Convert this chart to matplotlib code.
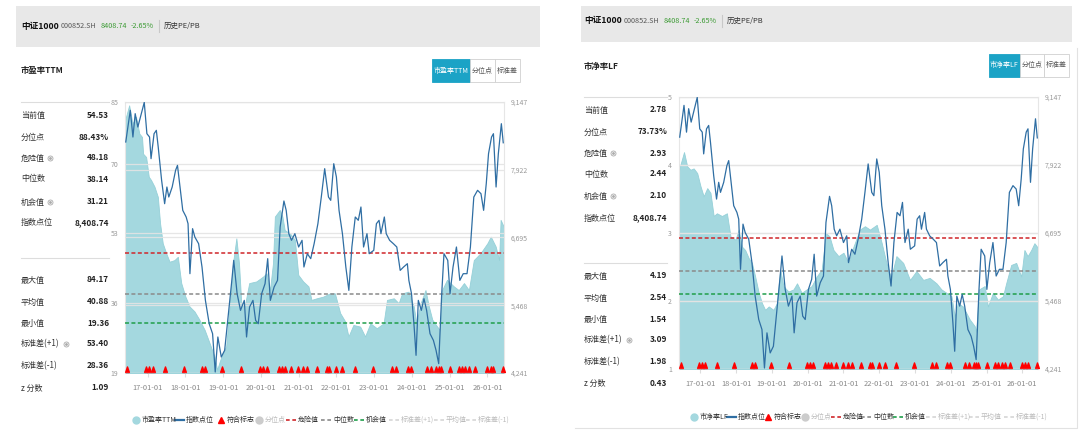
import matplotlib
matplotlib.use("Agg")
import matplotlib.pyplot as plt
from matplotlib.patches import Rectangle
from matplotlib.path import Path
import numpy as np

W, H = 1080, 438
FONT = ["Liberation Sans Narrow", "Noto Sans CJK SC", "DejaVu Sans"]
plt.rcParams["font.family"] = FONT

# ---- data (x = decimal year) ----
index_t = [2016.42, 2016.54, 2016.61, 2016.67, 2016.74, 2016.81, 2016.91, 2016.98, 2017.05, 2017.09,
           2017.17, 2017.23, 2017.28, 2017.37, 2017.45, 2017.51, 2017.56, 2017.65, 2017.74, 2017.79,
           2017.88, 2017.93, 2018.02, 2018.07, 2018.12, 2018.19, 2018.25, 2018.35, 2018.44, 2018.53,
           2018.63, 2018.72, 2018.79, 2018.86, 2018.95, 2019.04, 2019.14, 2019.23, 2019.28, 2019.37,
           2019.46, 2019.56, 2019.62, 2019.70, 2019.79, 2019.86, 2019.93, 2020.02, 2020.11, 2020.18,
           2020.25, 2020.35, 2020.44, 2020.51, 2020.61, 2020.67, 2020.74, 2020.81, 2020.90, 2021.00,
           2021.09, 2021.14, 2021.23, 2021.32, 2021.41, 2021.51, 2021.60, 2021.69, 2021.79, 2021.85,
           2021.93, 2022.00, 2022.07, 2022.16, 2022.25, 2022.33, 2022.41, 2022.50, 2022.58, 2022.65,
           2022.72, 2022.81, 2022.87, 2022.99, 2023.06, 2023.13, 2023.18, 2023.27, 2023.32, 2023.41,
           2023.51, 2023.60, 2023.69, 2023.78, 2023.88, 2023.92, 2023.99, 2024.06, 2024.11, 2024.17,
           2024.25, 2024.32, 2024.39, 2024.48, 2024.57, 2024.64, 2024.71, 2024.79, 2024.85, 2024.95,
           2025.01, 2025.09, 2025.18, 2025.27, 2025.36, 2025.46, 2025.55, 2025.64, 2025.74, 2025.83,
           2025.90, 2025.97, 2026.03, 2026.11, 2026.16, 2026.23, 2026.29, 2026.37, 2026.42]
index_v = [8423, 8996, 8513, 8936, 8694, 8875, 9140, 8573, 8513, 8121,
           8573, 8634, 8332, 7729, 7306, 7608, 7427, 7608, 7910, 8000,
           7487, 7186, 7065, 6944, 6039, 6854, 6703, 6582, 6160, 5556,
           5134, 4953, 4259, 4893, 4531, 4651, 5315, 5918, 6280, 5677,
           5375, 5556, 4893, 5436, 5556, 5194, 5134, 5677, 5858, 6311,
           5556, 5798, 5918, 6884, 7355, 7186, 6763, 6643, 6763, 6522,
           6643, 6160, 6401, 6311, 6582, 6944, 7427, 7940, 7427, 7367,
           8030, 7789, 7186, 6763, 6160, 5737, 6522, 7065, 7005, 7246,
           6522, 6763, 6401, 6462, 6944, 7005, 6763, 7065, 6763, 6643,
           6582, 6522, 6099, 6160, 6220, 5918, 5677, 5074, 4561, 5556,
           5375, 5587, 5375, 4953, 4832, 4651, 4410, 5677, 6401, 6280,
           5677, 6160, 6522, 5918, 6039, 6039, 6522, 7427, 7548, 7487,
           7186, 7668, 8211, 8513, 8573, 7608, 8211, 8754, 8409]

pe_t = [2016.40, 2016.51, 2016.60, 2016.69, 2016.78, 2016.85, 2016.88, 2016.96, 2017.03, 2017.09,
        2017.18, 2017.27, 2017.33, 2017.40, 2017.49, 2017.58, 2017.71, 2017.80, 2017.89, 2018.00,
        2018.11, 2018.24, 2018.37, 2018.51, 2018.64, 2018.77, 2018.84, 2018.91, 2018.99, 2019.08,
        2019.17, 2019.26, 2019.35, 2019.42, 2019.48, 2019.57, 2019.69, 2019.88, 2020.06, 2020.15,
        2020.24, 2020.32, 2020.37, 2020.50, 2020.57, 2020.63, 2020.77, 2020.90, 2020.99, 2021.12,
        2021.26, 2021.34, 2021.48, 2021.65, 2021.83, 2021.96, 2022.10, 2022.23, 2022.32, 2022.45,
        2022.63, 2022.76, 2022.90, 2023.07, 2023.25, 2023.34, 2023.52, 2023.65, 2023.74, 2023.91,
        2024.05, 2024.12, 2024.23, 2024.36, 2024.45, 2024.54, 2024.67, 2024.74, 2024.80, 2024.93,
        2025.11, 2025.24, 2025.38, 2025.51, 2025.64, 2025.82, 2026.00, 2026.09, 2026.22, 2026.31,
        2026.35, 2026.44]
pe_v = [80.5, 84.2, 79.7, 81.4, 77.3, 76.5, 72.4, 71.6, 66.8, 66.0,
        64.4, 61.9, 55.4, 50.6, 48.2, 46.1, 46.5, 47.3, 40.9, 37.6,
        35.2, 34.0, 32.0, 29.5, 26.3, 23.0, 19.8, 21.8, 23.9, 25.5,
        35.2, 45.7, 51.8, 45.7, 36.0, 35.2, 40.9, 41.3, 42.5, 43.3,
        39.2, 45.7, 57.1, 58.7, 57.1, 53.8, 53.0, 51.4, 42.9, 41.3,
        40.1, 36.8, 37.2, 37.6, 38.4, 38.4, 33.6, 31.6, 27.9, 30.7,
        30.3, 27.9, 31.1, 29.9, 31.1, 36.8, 37.2, 36.0, 38.4, 38.8,
        35.2, 31.1, 36.0, 39.2, 35.2, 32.0, 30.3, 29.5, 39.2, 41.7,
        40.1, 39.2, 40.9, 39.2, 46.5, 48.2, 50.6, 52.2, 49.8, 46.5,
        56.3, 54.5]

pb_t = [2016.40, 2016.54, 2016.63, 2016.72, 2016.81, 2016.91, 2017.00, 2017.09, 2017.19, 2017.28,
        2017.37, 2017.46, 2017.60, 2017.74, 2017.84, 2017.98, 2018.07, 2018.16, 2018.25, 2018.35,
        2018.44, 2018.53, 2018.63, 2018.72, 2018.81, 2018.91, 2019.04, 2019.14, 2019.23, 2019.32,
        2019.46, 2019.60, 2019.70, 2019.83, 2019.97, 2020.11, 2020.25, 2020.39, 2020.51, 2020.61,
        2020.72, 2020.86, 2021.00, 2021.14, 2021.28, 2021.46, 2021.60, 2021.74, 2021.93, 2022.07,
        2022.20, 2022.33, 2022.48, 2022.67, 2022.86, 2023.04, 2023.23, 2023.41, 2023.60, 2023.74,
        2023.88, 2024.02, 2024.11, 2024.20, 2024.34, 2024.53, 2024.67, 2024.71, 2024.79, 2024.95,
        2025.04, 2025.18, 2025.32, 2025.46, 2025.55, 2025.69, 2025.83, 2025.97, 2026.06, 2026.15,
        2026.25, 2026.34, 2026.44]
pb_v = [3.93, 4.19, 3.98, 3.93, 3.95, 3.88, 3.69, 3.54, 3.66, 3.59,
        3.25, 3.29, 3.25, 3.29, 2.95, 2.90, 3.05, 2.80, 2.75, 2.63,
        2.56, 2.36, 2.12, 1.97, 1.87, 1.92, 1.87, 1.97, 2.46, 2.22,
        2.14, 2.17, 2.26, 2.12, 2.17, 2.22, 2.36, 2.46, 3.00, 2.95,
        2.75, 2.66, 2.71, 2.56, 2.80, 3.05, 3.10, 3.05, 3.12, 2.85,
        2.56, 2.34, 2.66, 2.56, 2.31, 2.44, 2.31, 2.34, 2.26, 2.17,
        2.12, 2.07, 1.77, 1.97, 1.92, 1.73, 1.63, 1.55, 2.17, 2.22,
        1.92, 2.12, 2.02, 2.07, 2.26, 2.53, 2.56, 2.36, 2.75, 2.66,
        2.75, 2.85, 2.78]

signal_t = [2016.45, 2016.96, 2017.04, 2017.13, 2017.46, 2017.95, 2018.44, 2018.53, 2018.98, 2019.48,
            2019.97, 2020.06, 2020.15, 2020.48, 2020.56, 2020.65, 2020.79, 2020.99, 2021.12, 2021.23,
            2021.48, 2021.74, 2021.81, 2021.98, 2022.16, 2022.48, 2022.98, 2023.47, 2023.58, 2023.89,
            2023.98, 2024.40, 2024.51, 2024.64, 2024.71, 2024.77, 2025.01, 2025.24, 2025.33, 2025.42,
            2025.51, 2025.66, 2026.00, 2026.09, 2026.15, 2026.41]

year_ticks = [2017, 2018, 2019, 2020, 2021, 2022, 2023, 2024, 2025, 2026]
year_labels = ["17-01-01", "18-01-01", "19-01-01", "20-01-01", "21-01-01",
               "22-01-01", "23-01-01", "24-01-01", "25-01-01", "26-01-01"]
index_ticks = [4241, 5468, 6695, 7922, 9147]

header_parts = ["中证1000", "000852.SH", "8408.74", "-2.65%", "历史PE/PB"]
top_labels = ["当前值", "分位点", "危险值", "中位数", "机会值", "指数点位"]
bottom_labels = ["最大值", "平均值", "最小值", "标准差(+1)", "标准差(-1)", "z 分数"]
pe_top = ["54.53", "88.43%", "48.18", "38.14", "31.21", "8,408.74"]
pe_bottom = ["84.17", "40.88", "19.36", "53.40", "28.36", "1.09"]
pb_top = ["2.78", "73.73%", "2.93", "2.44", "2.10", "8,408.74"]
pb_bottom = ["4.19", "2.54", "1.54", "3.09", "1.98", "0.43"]
pe_levels = [48.18, 38.14, 31.21]
pb_levels = [2.93, 2.44, 2.10]
pe_ticks = [19, 36, 53, 70, 85]
pb_ticks = [1, 2, 3, 4, 5]

legend_rest = ["指数点位", "符合标志", "分位点", "危险值", "中位数", "机会值",
               "标准差(+1)", "平均值", "标准差(-1)"]

AREA = "#a4d8df"
LINE = "#2f6ea3"
TEAL = "#1ba3c6"
LEVEL_COLORS = ["#d0262a", "#8a8a8a", "#1f9e4a"]
TXT = "#333333"
GREY = "#999999"

TRI = Path([(-0.34, 0), (0.34, 0), (0, 1), (-0.34, 0)],
           [Path.MOVETO, Path.LINETO, Path.LINETO, Path.CLOSEPOLY])


def px_rect(x0, y0, x1, y1):
    return [x0 / W, 1 - y1 / H, (x1 - x0) / W, (y1 - y0) / H]


def chain_text(ov, renderer, x, y, parts, styles, gaps):
    # put texts one after another, each starting after the previous one ends
    ends = []
    for s, st, gap in zip(parts, styles, gaps):
        t = ov.text(x, y, s, va="center", **st)
        bb = t.get_window_extent(renderer)
        x = bb.x1 + gap
        ends.append(bb.x1)
    return ends


def draw_panel(fig, ov, renderer, g, metric, t, v, ylim, yticks, levels, top_vals, bottom_vals):
    # header band
    hx0, hy0, hx1, hy1 = g["header"]
    ov.add_patch(Rectangle((hx0, hy0), hx1 - hx0, hy1 - hy0, color="#e8e8e8", lw=0))
    hy = g["header_y"]
    styles = [dict(fontsize=6.2, fontweight="bold", color="#111"),
              dict(fontsize=5.2, color="#555"),
              dict(fontsize=5.2, color="#3d9b35"),
              dict(fontsize=5.2, color="#3d9b35"),
              dict(fontsize=5.4, color=TXT)]
    ends = chain_text(ov, renderer, g["header_x"], hy, header_parts, styles, [2, 4, 4, 10, 0])
    sep = ends[3] + 5
    ov.plot([sep, sep], [hy - 6, hy + 6], color="#c8c8c8", lw=0.8)

    # title and switch buttons
    ov.text(g["title"][0], g["title"][1], metric, fontsize=6.0, fontweight="bold",
            color="#222", va="center")
    for i, (bx0, by0, bx1, by1) in enumerate(g["buttons"]):
        face = TEAL if i == 0 else "white"
        ov.add_patch(Rectangle((bx0, by0), bx1 - bx0, by1 - by0, facecolor=face,
                               edgecolor=TEAL if i == 0 else "#d0d0d0", lw=0.6))
        label = [metric, "分位点", "标准差"][i]
        ov.text((bx0 + bx1) / 2, (by0 + by1) / 2, label, fontsize=5.0,
                color="white" if i == 0 else "#555", ha="center", va="center")

    # stats table
    lx, vx = g["table_x"]
    ov.plot([lx, vx], [g["table_line"], g["table_line"]], color="#dddddd", lw=0.8)
    ov.plot([lx, vx], [g["table_sep"], g["table_sep"]], color="#dddddd", lw=0.8)
    for rows, labels, vals in [(g["rows_top"], top_labels, top_vals),
                               (g["rows_bottom"], bottom_labels, bottom_vals)]:
        for y, lab, val in zip(rows, labels, vals):
            ov.text(lx, y, lab, fontsize=5.8, color=TXT, va="center")
            ov.text(vx, y, val, fontsize=5.9, color="#222", ha="right", va="center",
                    fontweight="bold")
    for (ix, iy) in g["icons"]:
        ov.plot([ix], [iy], "o", ms=3.6, mfc="white", mec="#aaaaaa", mew=0.6)
        ov.plot([ix], [iy], "o", ms=1.0, color="#aaaaaa")

    # chart
    ax = fig.add_axes(px_rect(*g["plot"]))
    ax.fill_between(t, ylim[0], v, color=AREA, lw=0.6, edgecolor="#95d0d8", zorder=1)
    for lev, c in zip(levels, LEVEL_COLORS):
        ax.axhline(lev, color=c, lw=1.1, dashes=(2.6, 1.6), zorder=3)
    ax.plot(signal_t, [0.004] * len(signal_t), linestyle="none", marker=TRI,
            ms=8, color="#ff0000", transform=ax.get_xaxis_transform(), zorder=4,
            clip_on=False)
    ax.set_xlim(2016.40, 2026.44)
    ax.set_ylim(*ylim)
    ax.set_yticks(yticks)
    ax.set_yticklabels([str(y) for y in yticks])
    ax.set_xticks(year_ticks)
    ax.set_xticklabels(year_labels)
    ax.grid(axis="y", color="#e4e4e4", lw=0.9, alpha=0.9)
    ax.set_axisbelow(False)
    ax.tick_params(axis="y", length=0, pad=5, labelsize=5.0, labelcolor=GREY)
    ax.tick_params(axis="x", length=3, color="#dddddd", pad=5, labelsize=5.4,
                   labelcolor="#888888")
    for side in ["top", "left", "right"]:
        ax.spines[side].set_color("#e6e6e6")
        ax.spines[side].set_linewidth(0.8)
    ax.spines["bottom"].set_visible(False)

    ax2 = ax.twinx()
    ax2.plot(index_t, index_v, color=LINE, lw=0.9, zorder=5)
    ax2.set_ylim(index_ticks[0], index_ticks[-1])
    ax2.set_yticks(index_ticks)
    ax2.set_yticklabels([f"{y:,}" for y in index_ticks])
    ax2.grid(axis="y", color="#e4e4e4", lw=0.9, alpha=0.9)
    ax2.tick_params(axis="y", length=0, pad=5, labelsize=5.0, labelcolor=GREY)
    for side in ax2.spines:
        ax2.spines[side].set_visible(False)

    # legend
    ly = g["legend_y"]
    kinds = ["circle", "line", "tri", "circle", "dash", "dash", "dash", "dash", "dash", "dash"]
    colors = [AREA, LINE, "#ff0000", "#cccccc"] + LEVEL_COLORS + ["#d6d6d6"] * 3
    labels = [metric] + legend_rest
    for x, kind, c, lab, i in zip(g["legend_x"], kinds, colors, labels, range(10)):
        active = i not in (3, 7, 8, 9)
        if kind == "circle":
            ov.plot([x], [ly], "o", ms=5, color=c)
        elif kind == "line":
            ov.plot([x - 5, x + 4], [ly, ly], color=c, lw=1.6)
        elif kind == "tri":
            ov.plot([x], [ly], "^", ms=5, color=c)
        else:
            ov.plot([x - 6, x + 4], [ly, ly], color=c, lw=1.2, dashes=(2.2, 1.6))
        ov.text(x + 6, ly, lab, fontsize=5.0, va="center",
                color=TXT if active else "#bbbbbb")


fig = plt.figure(figsize=(W / 100, H / 100), dpi=100)
renderer = fig.canvas.get_renderer()
ov = fig.add_axes([0, 0, 1, 1])
ov.set_xlim(0, W)
ov.set_ylim(H, 0)
ov.axis("off")

left = {
    "header": (16, 6, 540, 47), "header_y": 26, "header_x": 21,
    "title": (21, 71),
    "buttons": [(432, 59, 470, 82), (470, 59, 495, 82), (495, 59, 520, 82)],
    "table_x": (21, 109), "table_line": 102, "table_sep": 258,
    "rows_top": [115, 137, 158, 179, 202, 223],
    "rows_bottom": [280, 302, 323, 344, 366, 388],
    "icons": [(50, 158), (50, 202), (66, 344)],
    "plot": (125, 102, 504, 373),
    "legend_y": 420,
    "legend_x": [136, 180, 221, 259, 292, 327, 360, 395, 440, 472],
}
right = {
    "header": (581, 6, 1072, 42), "header_y": 21, "header_x": 584,
    "title": (584, 66),
    "buttons": [(989, 54, 1020, 77), (1020, 54, 1044, 77), (1044, 54, 1069, 77)],
    "table_x": (584, 667), "table_line": 97, "table_sep": 263,
    "rows_top": [110, 132, 153, 174, 196, 218],
    "rows_bottom": [276, 298, 319, 340, 362, 383],
    "icons": [(613, 153), (613, 196), (629, 340)],
    "plot": (679, 97, 1038, 369),
    "legend_y": 417,
    "legend_x": [694, 732, 768, 805, 837, 867, 899, 932, 975, 1010],
}

draw_panel(fig, ov, renderer, left, "市盈率TTM", pe_t, pe_v, (19, 85), pe_ticks, pe_levels,
           pe_top, pe_bottom)
draw_panel(fig, ov, renderer, right, "市净率LF", pb_t, pb_v, (1, 5), pb_ticks, pb_levels,
           pb_top, pb_bottom)

# card border around the right screenshot
ov.plot([575, 1077, 1077], [428, 428, 48], color="#e2e2e2", lw=0.8)

fig.savefig("out.png", dpi=100)
